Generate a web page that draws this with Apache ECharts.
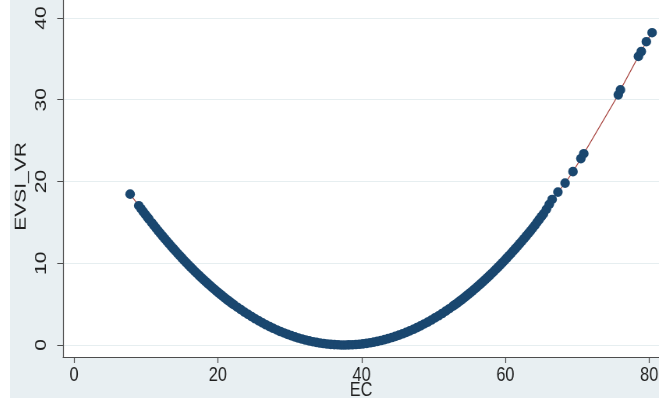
<!DOCTYPE html>
<html>
<head>
<meta charset="utf-8">
<script src="https://cdn.jsdelivr.net/npm/echarts@6/dist/echarts.min.js"></script>
<style>
  html, body { margin: 0; padding: 0; background: #ffffff; overflow: hidden; }
  /* graph drawn wide, then condensed horizontally (narrow lettering) */
  #chart {
    position: absolute; left: 10px; top: 0;
    width: 832px; height: 398px;
    transform: scaleX(0.78); transform-origin: 0 0;
  }
</style>
</head>
<body>
<div id="chart"></div>
<script>
// EC (x) and EVSI_VR (y), sorted by EC
const ecValues = [
  7.8, 9.0, 9.3, 9.6, 9.9, 10.2, 10.4,
  10.8, 11.1, 11.4, 11.7, 12.0, 12.3, 12.6, 12.9, 13.2, 13.5, 13.8, 14.1, 14.4, 14.7,
  15.0, 15.3, 15.6, 15.9, 16.2, 16.5, 16.8, 17.1, 17.4, 17.7, 18.0, 18.3, 18.6, 18.9,
  19.2, 19.5, 19.8, 20.1, 20.4, 20.7, 21.0, 21.3, 21.6, 21.9, 22.2,
  22.7, 23.2, 23.7, 24.2, 24.7, 25.2, 25.7, 26.2, 26.7, 27.2, 27.7, 28.2, 28.7, 29.2,
  29.7, 30.2, 30.7, 31.2, 31.7, 32.2, 32.7, 33.2, 33.7, 34.2, 34.7, 35.2, 35.7, 36.2,
  36.7, 37.2, 37.7, 38.2, 38.7, 39.2, 39.7, 40.2, 40.7, 41.2, 41.7, 42.2, 42.7, 43.2,
  43.7, 44.2, 44.7, 45.2, 45.7, 46.2, 46.7, 47.2, 47.7, 48.2, 48.7, 49.2, 49.7, 50.2,
  50.7, 51.2, 51.7, 52.2, 52.7,
  53.0, 53.3, 53.6, 53.9, 54.2, 54.5, 54.8, 55.1, 55.4, 55.7, 56.0, 56.3, 56.6, 56.9,
  57.2, 57.5, 57.8, 58.1, 58.4, 58.7, 59.0, 59.3, 59.6, 59.9, 60.2, 60.5, 60.8, 61.1,
  61.4, 61.7, 62.0, 62.3, 62.6, 62.9, 63.2, 63.5, 63.8, 64.1, 64.4, 64.7, 65.0, 65.3,
  65.7, 66.1, 66.5, 67.3, 68.3, 69.4, 70.5, 70.9, 75.7, 76.0, 78.5, 78.9, 79.6, 80.4
];
const evsiValues = [
  18.45, 17.04, 16.68, 16.33, 15.98, 15.64, 15.41,
  14.96, 14.63, 14.30, 13.97, 13.65, 13.33, 13.02, 12.71, 12.40, 12.10, 11.80, 11.50, 11.21, 10.92,
  10.64, 10.36, 10.08, 9.81, 9.54, 9.27, 9.01, 8.75, 8.50, 8.25, 8.00, 7.76, 7.52, 7.28,
  7.05, 6.82, 6.60, 6.38, 6.16, 5.95, 5.74, 5.53, 5.33, 5.13, 4.94,
  4.62, 4.32, 4.02, 3.74, 3.47, 3.20, 2.95, 2.71, 2.47, 2.25, 2.04, 1.84, 1.65, 1.47,
  1.30, 1.14, 0.99, 0.85, 0.73, 0.61, 0.50, 0.40, 0.32, 0.24, 0.18, 0.12, 0.08, 0.04,
  0.02, 0.00, 0.00, 0.01, 0.03, 0.05, 0.09, 0.14, 0.20, 0.27, 0.35, 0.44, 0.54, 0.65,
  0.78, 0.91, 1.05, 1.20, 1.37, 1.54, 1.72, 1.92, 2.12, 2.34, 2.57, 2.80, 3.05, 3.31,
  3.57, 3.85, 4.14, 4.44, 4.75,
  4.94, 5.13, 5.33, 5.53, 5.74, 5.95, 6.16, 6.38, 6.60, 6.82, 7.05, 7.28, 7.52, 7.76,
  8.00, 8.25, 8.50, 8.75, 9.01, 9.27, 9.54, 9.81, 10.08, 10.36, 10.64, 10.92, 11.21, 11.50,
  11.80, 12.10, 12.40, 12.71, 13.02, 13.33, 13.65, 13.97, 14.30, 14.63, 15.00, 15.35, 15.70, 16.05,
  16.60, 17.20, 17.80, 18.70, 19.80, 21.20, 22.80, 23.40, 30.60, 31.20, 35.30, 35.90, 37.10, 38.20
];
const xTickValues = [0, 20, 40, 60, 80];
const yTickValues = [0, 10, 20, 30, 40];

const points = ecValues.map((x, i) => [x, evsiValues[i]]);

const SQUEEZE = 0.78;           // horizontal condensing applied by CSS
const FONT = '"Liberation Sans", Arial, sans-serif';
const axisColor = '#4d4d4d';
const textColor = '#1f1f1f';

const chart = echarts.init(document.getElementById('chart'), null, { renderer: 'canvas' });
chart.setOption({
  backgroundColor: '#e8eff2',
  animation: false,
  textStyle: { fontFamily: FONT },
  grid: {
    left: 68, right: 0, top: 0, bottom: 41,
    outerBoundsMode: 'none',
    containLabel: false,
    show: true, backgroundColor: '#ffffff', borderWidth: 0
  },
  xAxis: {
    type: 'value',
    min: -1.53, max: 81.36,
    name: 'EC', nameLocation: 'middle', nameGap: 23,
    nameMoveOverlap: false,
    nameTextStyle: { fontSize: 21, color: textColor, fontFamily: FONT },
    axisLine: { show: true, onZero: false, lineStyle: { color: axisColor, width: 1.2 } },
    axisTick: { show: true, length: 6, customValues: xTickValues, lineStyle: { color: axisColor, width: 1.2 } },
    axisLabel: { customValues: xTickValues, fontSize: 21, color: textColor, margin: 8, fontFamily: FONT },
    splitLine: { show: false }
  },
  yAxis: {
    type: 'value',
    min: -1.47, max: 42.2,
    name: 'EVSI_VR', nameLocation: 'middle', nameGap: 43,
    nameMoveOverlap: false,
    nameTextStyle: { fontSize: 21, color: textColor, fontFamily: FONT, padding: [0, 16, 0, 0] },
    axisLine: { show: true, onZero: false, lineStyle: { color: axisColor, width: 1.2 } },
    axisTick: { show: true, length: 7.5, customValues: yTickValues, lineStyle: { color: axisColor } },
    axisLabel: { customValues: yTickValues, rotate: 90, fontSize: 21, color: textColor, margin: 17, fontFamily: FONT },
    splitLine: { show: true, lineStyle: { color: '#e6eef0', width: 1 } }
  },
  series: [
    {
      type: 'line',
      data: points,
      showSymbol: false,
      z: 1,
      lineStyle: { color: '#a8443f', width: 1.1 },
      silent: true
    },
    {
      type: 'scatter',
      data: points,
      symbol: 'circle',
      symbolSize: [9.6 / SQUEEZE, 9.6],
      z: 2,
      itemStyle: { color: '#1a476f', opacity: 1 },
      clip: false
    }
  ]
});
</script>
</body>
</html>
